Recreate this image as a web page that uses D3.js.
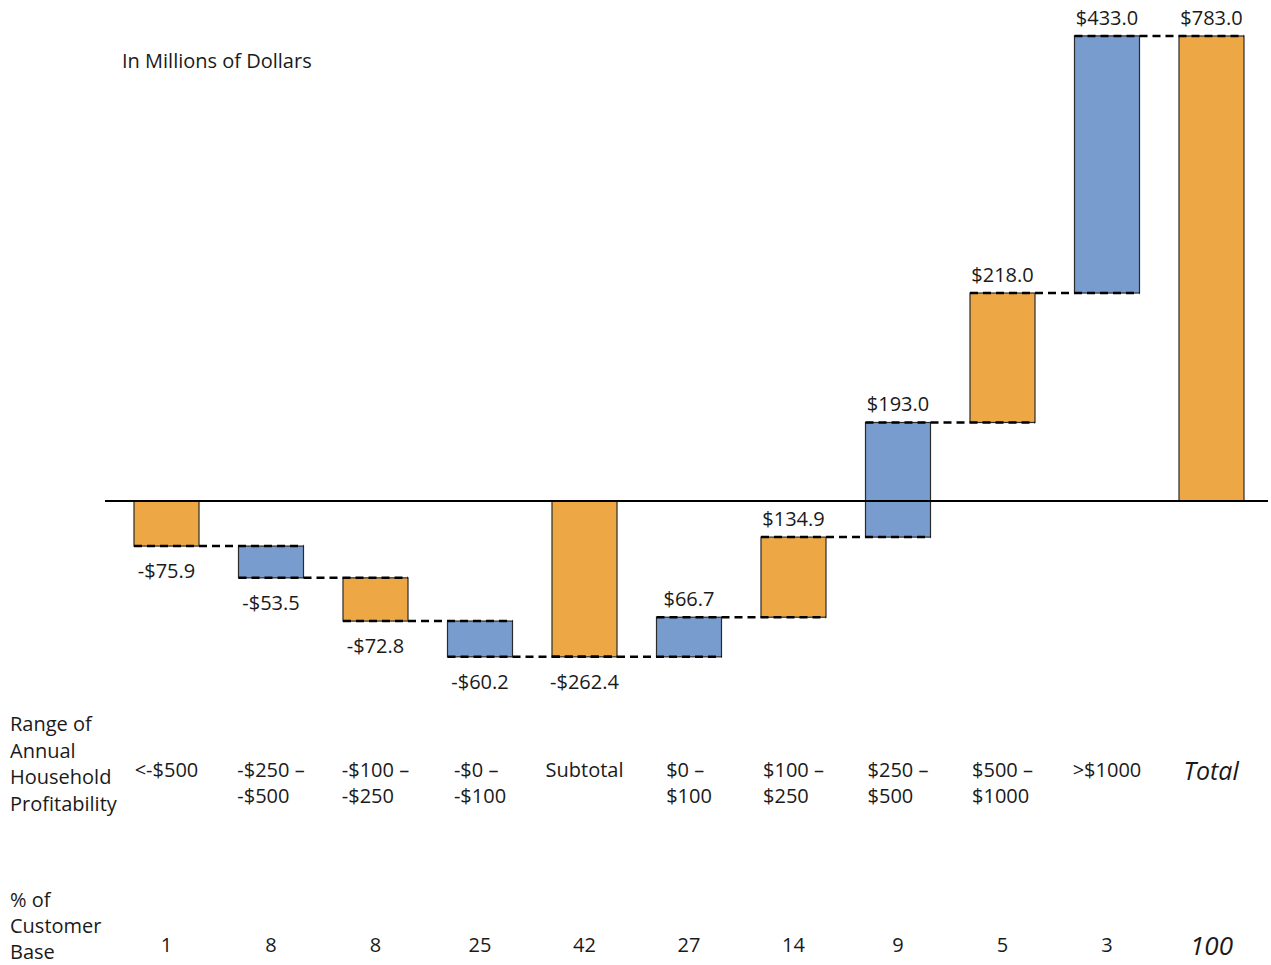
<!DOCTYPE html>
<html><head><meta charset="utf-8">
<script src="https://cdn.jsdelivr.net/npm/d3@7"></script>
<style>body{margin:0;background:#fff}svg{display:block}text{font-family:"Open Sans",sans-serif;fill:#1a1a1a}</style>
</head><body>
<script>
const categories = [["<-$500"],["-$250 –","-$500"],["-$100 –","-$250"],["-$0 –","-$100"],["Subtotal"],["$0 –","$100"],["$100 –","$250"],["$250 –","$500"],["$500 –","$1000"],[">$1000"],["Total"]];
const values = [-75.9,-53.5,-72.8,-60.2,-262.4,66.7,134.9,193.0,218.0,433.0,783.0];
const kinds = ["step","step","step","step","subtotal","step","step","step","step","step","total"];
const valueLabels = ["-$75.9","-$53.5","-$72.8","-$60.2","-$262.4","$66.7","$134.9","$193.0","$218.0","$433.0","$783.0"];
const percents = ["1","8","8","25","42","27","14","9","5","3","100"];
const barColors = ["#EEA745","#789CCE"];
const rowTitle1 = ["Range of","Annual","Household","Profitability"];
const rowTitle2 = ["% of","Customer","Base"];
const unitNote = "In Millions of Dollars";

const W=1271,H=965,FS="20px";
const svg=d3.select("body").append("svg").attr("width",W).attr("height",H);
const x=d3.scaleBand().domain(d3.range(values.length)).range([134,1244]).paddingInner(0.378).paddingOuter(0);
const y=d3.scaleLinear().domain([0,783]).range([501,36]);

let run=0;
const bars=values.map((v,i)=>{
  let s,e;
  if(kinds[i]==="step"){s=run;e=run+v;run=e;}
  else {s=0;e=v;}
  return {i,s,e,v};
});

svg.selectAll("rect.bar").data(bars).enter().append("rect")
  .attr("x",d=>x(d.i)).attr("width",x.bandwidth())
  .attr("y",d=>y(Math.max(d.s,d.e))).attr("height",d=>Math.abs(y(d.s)-y(d.e)))
  .attr("fill",d=>barColors[d.i%2]).attr("stroke","#2a2a2a").attr("stroke-width",1.2);

svg.append("line").attr("x1",105).attr("x2",1268).attr("y1",y(0)).attr("y2",y(0)).attr("stroke","#000").attr("stroke-width",2);

const conns=d3.range(values.length-1).map(i=>({i,level:bars[i].e}));
svg.selectAll("line.conn").data(conns).enter().append("line")
  .attr("x1",d=>x(d.i)).attr("x2",d=>x(d.i+1)+x.bandwidth())
  .attr("y1",d=>y(d.level)).attr("y2",d=>y(d.level))
  .attr("stroke","#000").attr("stroke-width",2.5).attr("stroke-dasharray","8,5");

svg.selectAll("text.val").data(bars).enter().append("text")
  .attr("x",d=>x(d.i)+x.bandwidth()/2)
  .attr("y",d=>d.v>=0? y(Math.max(d.s,d.e))-11 : y(Math.min(d.s,d.e))+32)
  .attr("text-anchor","middle").style("font-size",FS).text((d,i)=>valueLabels[i]);

categories.forEach((lines,i)=>{
  const isTotal=kinds[i]==="total";
  const g=svg.append("text").style("font-size",isTotal?"25px":FS).style("font-style",isTotal?"italic":"normal");
  lines.forEach((l,k)=>g.append("tspan").attr("x",0).attr("y",(isTotal?780:777)+k*26).text(l));
  const w=g.node().getBBox().width;
  const cx=x(i)+x.bandwidth()/2;
  g.selectAll("tspan").attr("x",cx-w/2);
});

svg.selectAll("text.pct").data(percents).enter().append("text")
  .attr("x",(d,i)=>x(i)+x.bandwidth()/2)
  .attr("y",(d,i)=>kinds[i]==="total"?955:952)
  .attr("text-anchor","middle")
  .style("font-size",(d,i)=>kinds[i]==="total"?"26px":FS)
  .style("font-style",(d,i)=>kinds[i]==="total"?"italic":"normal")
  .text(d=>d);

const t1=svg.append("text").style("font-size",FS);
rowTitle1.forEach((l,k)=>t1.append("tspan").attr("x",10).attr("y",731+k*26.5).text(l));
const t2=svg.append("text").style("font-size",FS);
rowTitle2.forEach((l,k)=>t2.append("tspan").attr("x",10).attr("y",907+k*26).text(l));

svg.append("text").attr("x",122).attr("y",68).style("font-size",FS).text(unitNote);
</script>
</body></html>
